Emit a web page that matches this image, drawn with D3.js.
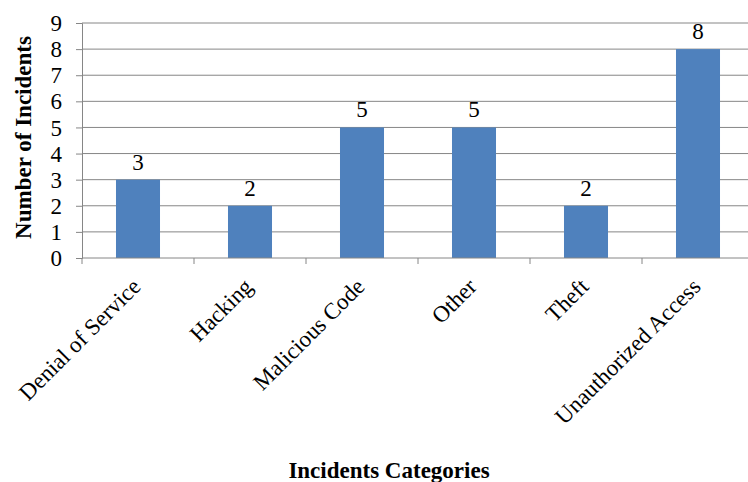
<!DOCTYPE html>
<html>
<head>
<meta charset="utf-8">
<script src="https://cdn.jsdelivr.net/npm/d3@7"></script>
<style>
  body { margin: 0; background: #fff; }
  svg { display: block; }
  text { font-family: 'Liberation Serif', 'Times New Roman', serif; fill: #000; }
</style>
</head>
<body>
<div class="chart"></div>
<script>
const categories = ['Denial of Service', 'Hacking', 'Malicious Code', 'Other', 'Theft', 'Unauthorized Access'];
const incidents = [3, 2, 5, 5, 2, 8];
const yTicks = [0, 1, 2, 3, 4, 5, 6, 7, 8, 9];

const width = 748;
const height = 482;
const margin = { top: 23, right: -6, bottom: 224, left: 82 };
const fontSize = 23;

const svg = d3
  .select('.chart')
  .append('svg')
  .attr('width', width)
  .attr('height', height);

const x = d3
  .scaleBand()
  .domain(categories)
  .range([margin.left, width - margin.right])
  .paddingInner(0.607)
  .paddingOuter(0.3035);

const y = d3
  .scaleLinear()
  .domain([0, 9])
  .range([height - margin.bottom, margin.top]);

// gridlines
svg
  .append('g')
  .selectAll('line')
  .data(yTicks.slice(1))
  .join('line')
  .attr('x1', margin.left)
  .attr('x2', width)
  .attr('y1', (d) => y(d))
  .attr('y2', (d) => y(d))
  .attr('stroke', '#868686')
  .attr('stroke-width', 1);

// bars
svg
  .append('g')
  .selectAll('rect')
  .data(incidents)
  .join('rect')
  .attr('x', (d, i) => x(categories[i]))
  .attr('y', (d) => y(d))
  .attr('width', x.bandwidth())
  .attr('height', (d) => y(0) - y(d))
  .attr('fill', '#4F81BD');

// value labels
svg
  .append('g')
  .selectAll('text')
  .data(incidents)
  .join('text')
  .attr('x', (d, i) => x(categories[i]) + x.bandwidth() / 2)
  .attr('y', (d) => y(d) - 10)
  .attr('text-anchor', 'middle')
  .attr('font-size', fontSize)
  .text((d) => d);

// y axis
const yAxis = svg
  .append('g')
  .attr('transform', `translate(${margin.left},0)`)
  .call(d3.axisLeft(y).tickValues(yTicks).tickSize(6).tickPadding(14));
yAxis.attr('font-family', null).attr('font-size', null);
yAxis.selectAll('line, path').attr('stroke', '#868686');
yAxis.selectAll('text').attr('font-size', fontSize).attr('dy', '0.33em');

// x axis: ticks at category boundaries
const step = x.step();
const boundaries = d3.range(categories.length + 1).map((i) => margin.left + i * step);
const xAxis = svg.append('g');
xAxis
  .append('line')
  .attr('x1', margin.left)
  .attr('x2', width)
  .attr('y1', y(0))
  .attr('y2', y(0))
  .attr('stroke', '#868686');
xAxis
  .selectAll('.tick')
  .data(boundaries)
  .join('line')
  .attr('x1', (d) => d)
  .attr('x2', (d) => d)
  .attr('y1', y(0))
  .attr('y2', y(0) + 6)
  .attr('stroke', '#868686');

// category labels, rotated
svg
  .append('g')
  .selectAll('text')
  .data(categories)
  .join('text')
  .attr('text-anchor', 'end')
  .attr('font-size', fontSize)
  .attr('transform', (d) => `translate(${x(d) + x.bandwidth() / 2 + 4},${y(0) + 30}) rotate(-45)`)
  .text((d) => d);

// axis titles
svg
  .append('text')
  .attr('x', 389)
  .attr('y', 478)
  .attr('text-anchor', 'middle')
  .attr('font-weight', 'bold')
  .attr('font-size', 23)
  .text('Incidents Categories');

svg
  .append('text')
  .attr('transform', `translate(31,${(y(0) + y(9)) / 2 - 3}) rotate(-90)`)
  .attr('text-anchor', 'middle')
  .attr('font-weight', 'bold')
  .attr('font-size', 23)
  .text('Number of Incidents');
</script>
</body>
</html>
